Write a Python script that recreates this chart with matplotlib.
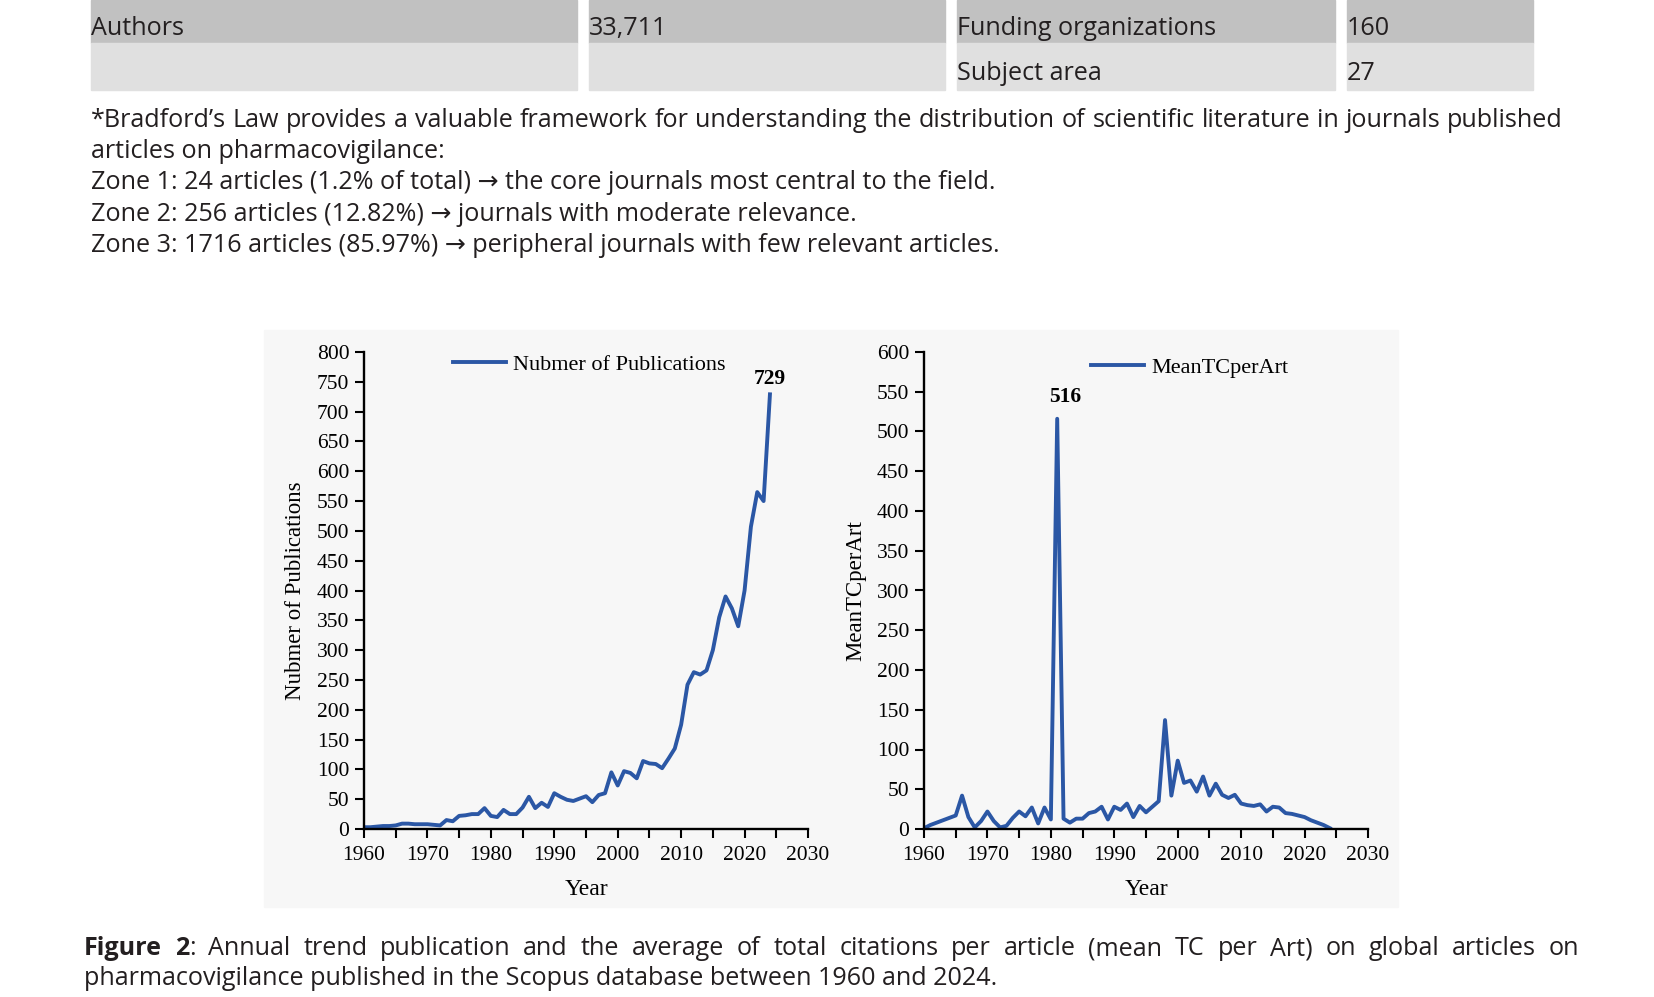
import numpy as np
import matplotlib.pyplot as plt
from matplotlib.patches import Rectangle
from matplotlib.ticker import MultipleLocator

W, H = 1654, 997

# data
years = list(range(1960, 2025))
publications = [3, 3, 4, 5, 5, 6, 9, 9, 8, 8,
                8, 7, 6, 15, 13, 22, 23, 25, 25, 35,
                22, 20, 32, 25, 25, 36, 54, 35, 44, 37,
                60, 54, 49, 47, 51, 55, 45, 57, 60, 95,
                73, 97, 94, 85, 114, 110, 109, 102, 118, 135,
                175, 242, 263, 259, 266, 300, 355, 390, 370, 340,
                400, 507, 565, 550, 729]
mean_tc = [1, 5, 8, 11, 14, 17, 42, 15, 2, 10,
           22, 10, 2, 4, 14, 22, 16, 27, 7, 27,
           12, 516, 13, 8, 13, 13, 20, 22, 28, 12,
           28, 24, 32, 15, 29, 21, 28, 35, 137, 42,
           86, 58, 61, 47, 66, 42, 57, 43, 39, 43,
           32, 30, 29, 31, 22, 28, 27, 20, 19, 17,
           15, 11, 8, 5, 1]

table_rows = [["Authors", "33,711", "Funding organizations", "160"],
              ["", "", "Subject area", "27"]]

note_first = ("*Bradford\u2019s Law provides a valuable framework for understanding the "
              "distribution of scientific literature in journals published")
note_lines = ["articles on pharmacovigilance:",
              "Zone 1: 24 articles (1.2% of total) \u2192 the core journals most central to the field.",
              "Zone 2: 256 articles (12.82%) \u2192 journals with moderate relevance.",
              "Zone 3: 1716 articles (85.97%) \u2192 peripheral journals with few relevant articles."]
caption_first = [[("Figure", "bold")], [("2", "bold"), (":", "normal")]] + \
    [[(w, "normal")] for w in "Annual trend publication and the average of total citations "
     "per article (mean TC per Art) on global articles on".split()]
caption_second = "pharmacovigilance published in the Scopus database between 1960 and 2024."

PAGE_FONT = ["Open Sans", "DejaVu Sans"]
TXT = "#231f20"
BLUE = "#2b57a5"

fig = plt.figure(figsize=(W / 100, H / 100), dpi=100)
renderer = fig.canvas.get_renderer()


def fx(px):
    return px / W


def fy(py):
    return 1 - py / H


# pick the page font size so the last zone line has the width it has on the page
probe = fig.text(0, 0, note_lines[-1], fontsize=17, family=PAGE_FONT)
FS = 17 * 909 / probe.get_window_extent(renderer).width
probe.remove()


def page_text(x, y, s, **kw):
    return fig.text(fx(x), fy(y), s, fontsize=FS, family=PAGE_FONT, color=TXT,
                    va="baseline", **kw)


# table
col_edges = [(91, 577), (589, 945), (957, 1335), (1347, 1533)]
row_edges = [(0, 43, "#c1c1c1", 35), (43, 90, "#e0e0e0", 80)]
for (y0, y1, c, base), row in zip(row_edges, table_rows):
    for (x0, x1), txt in zip(col_edges, row):
        fig.patches.append(Rectangle((fx(x0), fy(y1)), fx(x1 - x0), (y1 - y0) / H,
                                     transform=fig.transFigure, color=c, zorder=-5))
        page_text(x0, base, txt)


def justify(tokens, x0, x1, y):
    items = [[page_text(0, y, s, fontweight=wt) for s, wt in tok] for tok in tokens]
    widths = [[t.get_window_extent(renderer).width for t in parts] for parts in items]
    total = sum(sum(ws) for ws in widths)
    gap = (x1 - x0 - total) / (len(items) - 1)
    x = x0
    for parts, ws in zip(items, widths):
        for t, w in zip(parts, ws):
            t.set_x(fx(x))
            x += w
        x += gap


justify([[(w, "normal")] for w in note_first.split()], 91, 1563, 127)
for i, line in enumerate(note_lines):
    page_text(91, 158 + i * 31.3, line)

justify(caption_first, 84, 1579, 955)
page_text(84, 985, caption_second)

# chart background panel
fig.patches.append(Rectangle((fx(264), fy(907)), fx(1398 - 264), (907 - 330) / H,
                             transform=fig.transFigure, color="#f7f7f7", zorder=-5))

plt.rcParams["font.family"] = ["Liberation Serif"]


def panel(left, values, ymax, label, legend_x, legend_y, peak_dx, peak_y):
    ax = fig.add_axes([fx(left), 1 - 829 / H, fx(444), 477 / H])
    ax.patch.set_alpha(0)
    ax.plot(years, values, color=BLUE, lw=2.8, label=label)
    ax.set_xlim(1960, 2030)
    ax.set_ylim(0, ymax)
    ax.xaxis.set_major_locator(MultipleLocator(10))
    ax.xaxis.set_minor_locator(MultipleLocator(5))
    ax.yaxis.set_major_locator(MultipleLocator(50))
    for s in ("top", "right"):
        ax.spines[s].set_visible(False)
    for s in ("left", "bottom"):
        ax.spines[s].set_linewidth(1.7)
    ax.tick_params(which="both", direction="out", length=6.5, width=1.5,
                   labelsize=15.5, colors="black")
    ax.tick_params(axis="x", pad=6)
    ax.tick_params(axis="y", pad=4)
    ax.set_xlabel("Year", fontsize=17)
    ax.xaxis.set_label_coords(0.5, -0.105)
    ax.set_ylabel(label, fontsize=16.5)
    ax.yaxis.set_label_coords(-0.13, 0.5)
    ax.legend(loc="center left", bbox_to_anchor=(legend_x, legend_y), frameon=False,
              fontsize=16, handlelength=2.4, handletextpad=0.3, borderpad=0,
              borderaxespad=0)
    i = values.index(max(values))
    ax.text(years[i] + peak_dx, peak_y, str(max(values)), fontsize=15.5, fontweight="bold",
            ha="center", va="center")
    return ax


panel(364, publications, 800, "Nubmer of Publications", 0.2, 0.974, 0, 755)
panel(924, mean_tc, 600, "MeanTCperArt", 0.376, 0.968, 1.2, 543)

fig.savefig("out.png", dpi=100)
